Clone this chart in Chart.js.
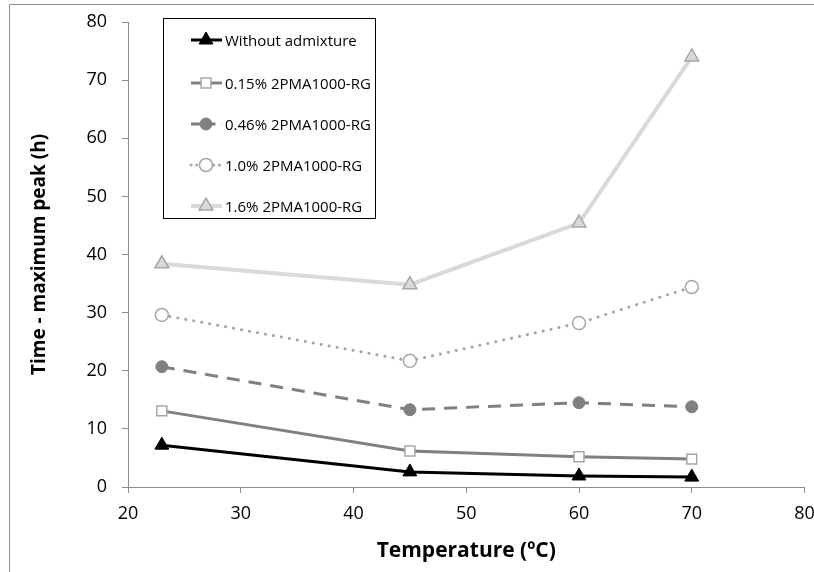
<!DOCTYPE html>
<html>
<head>
<meta charset="utf-8">
<script src="https://cdn.jsdelivr.net/npm/chart.js@4"></script>
<style>
  html, body { margin: 0; padding: 0; background: #fff; }
  #wrap { position: relative; width: 814px; height: 572px; }
</style>
</head>
<body>
<div id="wrap"><canvas id="chart" width="814" height="572"></canvas></div>
<script>
// temperatures (°C) and time to maximum peak (h) per admixture dose
const temps = [23, 45, 60, 70];
const noAdmixture = [7.2, 2.6, 1.9, 1.7];
const dose015 = [13.1, 6.2, 5.2, 4.8];
const dose046 = [20.7, 13.3, 14.5, 13.8];
const dose10 = [29.6, 21.7, 28.2, 34.4];
const dose16 = [38.4, 34.8, 45.4, 74.0];
const seriesNames = ['Without admixture', '0.15% 2PMA1000-RG', '0.46% 2PMA1000-RG', '1.0% 2PMA1000-RG', '1.6% 2PMA1000-RG'];
const xTicks = [20, 30, 40, 50, 60, 70, 80];
const yTicks = [0, 10, 20, 30, 40, 50, 60, 70, 80];

const FONT = "'Open Sans', 'Noto Sans', sans-serif";

function pts(vals) {
    return temps.map((t, i) => ({ x: t, y: vals[i] }));
}

const datasets = [
    { label: seriesNames[0], data: pts(noAdmixture), borderColor: '#000', borderWidth: 3,
      pointStyle: 'triangle', pointRadius: 8, pointBackgroundColor: '#000', pointBorderColor: '#000', pointBorderWidth: 1 },
    { label: seriesNames[1], data: pts(dose015), borderColor: '#808080', borderWidth: 3,
      pointStyle: 'rect', pointRadius: 7, pointBackgroundColor: '#fff', pointBorderColor: '#a6a6a6', pointBorderWidth: 1.5 },
    { label: seriesNames[2], data: pts(dose046), borderColor: '#808080', borderWidth: 3, borderDash: [13, 9],
      pointStyle: 'circle', pointRadius: 6, pointBackgroundColor: '#808080', pointBorderColor: '#808080', pointBorderWidth: 1 },
    { label: seriesNames[3], data: pts(dose10), borderColor: '#a6a6a6', borderWidth: 3, borderDash: [0.1, 8], borderCapStyle: 'round',
      pointStyle: 'circle', pointRadius: 6.5, pointBackgroundColor: '#fff', pointBorderColor: '#a6a6a6', pointBorderWidth: 1.5 },
    { label: seriesNames[4], data: pts(dose16), borderColor: '#d9d9d9', borderWidth: 4,
      pointStyle: 'triangle', pointRadius: 8, pointBackgroundColor: '#d9d9d9', pointBorderColor: '#a6a6a6', pointBorderWidth: 1.5 }
];

// frame lines + boxed legend drawn on the canvas
const decor = {
    id: 'decor',
    afterDraw(chart) {
        const ctx = chart.ctx;
        ctx.save();
        ctx.strokeStyle = '#8c8c8c';
        ctx.lineWidth = 1;
        ctx.beginPath();
        ctx.moveTo(9.5, 572);
        ctx.lineTo(9.5, 4.5);
        ctx.lineTo(814, 4.5);
        ctx.stroke();

        // legend box
        const bx = 163.5, by = 18.5, bw = 212, bh = 200;
        ctx.fillStyle = '#fff';
        ctx.fillRect(bx, by, bw, bh);
        ctx.strokeStyle = '#000';
        ctx.strokeRect(bx, by, bw, bh);

        const rows = [40, 83, 124, 165, 206];
        chart.data.datasets.forEach((ds, i) => {
            const y = rows[i];
            ctx.save();
            ctx.strokeStyle = ds.borderColor;
            ctx.lineWidth = ds.borderWidth;
            ctx.lineCap = ds.borderCapStyle || 'butt';
            ctx.setLineDash(ds.borderDash ? ds.borderDash.map(v => v * 0.7) : []);
            ctx.beginPath();
            ctx.moveTo(191, y);
            ctx.lineTo(222, y);
            ctx.stroke();
            ctx.restore();
            ctx.fillStyle = ds.pointBackgroundColor;
            ctx.strokeStyle = ds.pointBorderColor;
            ctx.lineWidth = ds.pointBorderWidth;
            Chart.helpers.drawPoint(ctx, {
                pointStyle: ds.pointStyle,
                radius: ds.pointRadius,
                borderWidth: ds.pointBorderWidth
            }, 206, y);
            ctx.fillStyle = '#000';
            ctx.font = '15px ' + FONT;
            ctx.textBaseline = 'middle';
            ctx.fillText(ds.label, 225, y + 2);
        });
        ctx.restore();
    }
};

new Chart(document.getElementById('chart'), {
    type: 'line',
    data: { datasets },
    plugins: [decor],
    options: {
        responsive: false,
        animation: false,
        layout: { padding: { left: 28, right: 9, top: 22, bottom: 8 } },
        plugins: { legend: { display: false }, tooltip: { enabled: false } },
        scales: {
            x: {
                type: 'linear', min: 20, max: 80,
                afterBuildTicks: s => { s.ticks = xTicks.map(v => ({ value: v })); },
                afterFit: s => { s.height = 77; s.paddingLeft = 0; s.paddingRight = 0; },
                border: { display: true, color: '#8c8c8c', width: 1 },
                grid: { drawOnChartArea: false, drawTicks: true, tickLength: 6, color: '#8c8c8c' },
                ticks: { color: '#000', font: { family: FONT, size: 18 }, padding: 10, maxRotation: 0 },
                title: { display: true, text: 'Temperature (ºC)', color: '#000',
                         font: { family: FONT, size: 21, weight: 'bold' }, padding: 0 }
            },
            y: {
                type: 'linear', min: 0, max: 80,
                afterBuildTicks: s => { s.ticks = yTicks.map(v => ({ value: v })); },
                afterFit: s => { s.width = 100; s.paddingTop = 0; s.paddingBottom = 0; },
                border: { display: true, color: '#8c8c8c', width: 1 },
                grid: { drawOnChartArea: false, drawTicks: true, tickLength: 6, color: '#8c8c8c' },
                ticks: { color: '#000', font: { family: FONT, size: 18 }, padding: 15 },
                title: { display: true, text: 'Time - maximum peak (h)', color: '#000',
                         font: { family: FONT, size: 19, weight: 'bold' }, padding: 0 }
            }
        }
    }
});
</script>
</body>
</html>
